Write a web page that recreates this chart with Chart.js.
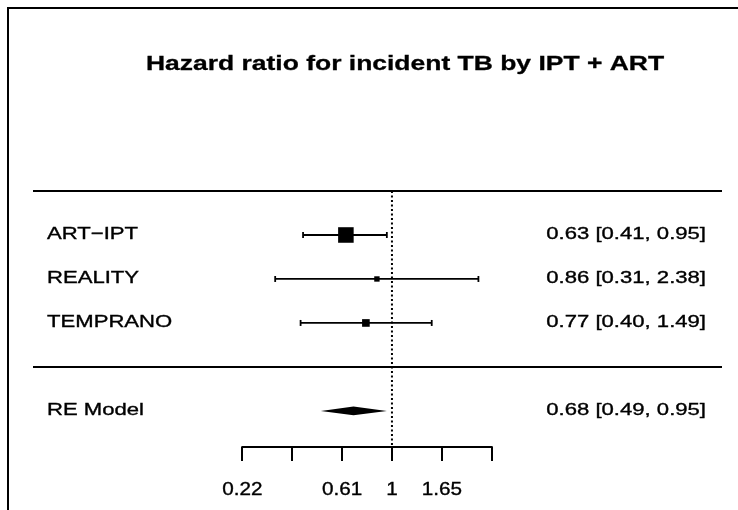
<!DOCTYPE html>
<html>
<head>
<meta charset="utf-8">
<script src="https://cdn.jsdelivr.net/npm/chart.js@4.4.1/dist/chart.umd.min.js"></script>
<style>
    html, body { margin: 0; padding: 0; background: #fff; }
    canvas { display: block; }
</style>
</head>
<body>
<canvas id="forest" width="738" height="510"></canvas>
<script>
// Study estimates (hazard ratios with 95% CI)
const studies = ["ART\u2212IPT", "REALITY", "TEMPRANO"];
const hr = [0.63, 0.86, 0.77];
const ciLower = [0.41, 0.31, 0.40];
const ciUpper = [0.95, 2.38, 1.49];

// Random-effects summary
const modelLabel = "RE Model";
const modelHr = 0.68;
const modelLower = 0.49;
const modelUpper = 0.95;

// Axis ticks on the log scale and their printed labels
const tickLogs = [-1.5, -1, -0.5, 0, 0.5, 1];
const tickLabels = ["0.22", "", "0.61", "1", "1.65", ""];

const title = "Hazard ratio for incident TB by IPT + ART";

// layout rows: studies top-down, summary under the separator
const studyRows = [3, 2, 1];
const modelRow = -1;
const X_MIN = -3.6, X_MAX = 3.31;
const Y_MIN = -1.82, Y_MAX = 4;

const FONT = "'Liberation Sans', Arial, sans-serif";
const fmt = (e, l, u) => e.toFixed(2) + " [" + l.toFixed(2) + ", " + u.toFixed(2) + "]";

Chart.defaults.font.family = FONT;
Chart.defaults.color = "#000";

// text drawn a little wide, like the R device output
function wideText(ctx, str, x, y, align, sx, weight) {
    ctx.save();
    ctx.translate(x, y);
    ctx.scale(sx, 1);
    ctx.textAlign = align;
    ctx.fillText(str, 0, 0);
    if (weight) {
        ctx.lineWidth = weight;
        ctx.strokeText(str, 0, 0);
    }
    ctx.restore();
}

const ciSets = studies.map((s, i) => ({
    label: s,
    data: [{ x: Math.log(ciLower[i]), y: studyRows[i] }, { x: Math.log(ciUpper[i]), y: studyRows[i] }],
    showLine: true,
    borderColor: "#000",
    borderWidth: 1.8,
    pointStyle: "line",
    pointRotation: 90,
    pointRadius: 3,
    pointBorderWidth: 1.8,
    pointBorderColor: "#000",
    clip: false
}));

const hline = y => ({
    data: [{ x: X_MIN, y: y }, { x: X_MAX, y: y }],
    showLine: true,
    borderColor: "#000",
    borderWidth: 2,
    pointRadius: 0,
    clip: false
});

// frame, title, text columns, summary diamond and axis line
const decor = {
    id: "decor",
    beforeDatasetsDraw(chart) {
        const { ctx, scales: { x, y } } = chart;
        const h = 0.1;
        ctx.save();
        ctx.fillStyle = "#000";
        ctx.beginPath();
        ctx.moveTo(x.getPixelForValue(Math.log(modelLower)), y.getPixelForValue(modelRow));
        ctx.lineTo(x.getPixelForValue(Math.log(modelHr)), y.getPixelForValue(modelRow + h));
        ctx.lineTo(x.getPixelForValue(Math.log(modelUpper)), y.getPixelForValue(modelRow));
        ctx.lineTo(x.getPixelForValue(Math.log(modelHr)), y.getPixelForValue(modelRow - h));
        ctx.closePath();
        ctx.fill();
        ctx.restore();
    },
    afterDraw(chart) {
        const { ctx, chartArea, scales: { x, y } } = chart;
        ctx.save();
        ctx.strokeStyle = "#000";
        ctx.lineWidth = 2;
        ctx.beginPath();
        ctx.moveTo(8, 510);
        ctx.lineTo(8, 8);
        ctx.lineTo(738, 8);
        ctx.stroke();

        // axis line between first and last tick
        ctx.beginPath();
        ctx.moveTo(x.getPixelForValue(tickLogs[0]) - 1, chartArea.bottom);
        ctx.lineTo(x.getPixelForValue(tickLogs[tickLogs.length - 1]) + 1, chartArea.bottom);
        ctx.stroke();

        ctx.fillStyle = "#000";
        ctx.textBaseline = "alphabetic";
        ctx.font = "bold 21px " + FONT;
        wideText(ctx, title, 405, 70, "center", 1.26, 0.3);

        ctx.font = "17px " + FONT;
        const leftX = chartArea.left + 14, rightX = chartArea.right - 16;
        studies.forEach((s, i) => {
            const py = y.getPixelForValue(studyRows[i]) + 4.5;
            wideText(ctx, s, leftX, py, "left", 1.3, 0.35);
            wideText(ctx, fmt(hr[i], ciLower[i], ciUpper[i]), rightX, py, "right", 1.3, 0.35);
        });
        const my = y.getPixelForValue(modelRow) + 4.5;
        wideText(ctx, modelLabel, leftX, my, "left", 1.3, 0.35);
        wideText(ctx, fmt(modelHr, modelLower, modelUpper), rightX, my, "right", 1.3, 0.35);

        // tick labels under the tick marks of the x scale
        ctx.font = "18px " + FONT;
        x.ticks.forEach((t, i) => {
            if (tickLabels[i]) {
                wideText(ctx, tickLabels[i], x.getPixelForValue(t.value), chartArea.bottom + 48, "center", 1.15, 0.35);
            }
        });
        ctx.restore();
    }
};

new Chart(document.getElementById("forest"), {
    type: "scatter",
    data: {
        datasets: [
            hline(Y_MAX),
            hline(0),
            {
                // reference line at HR = 1
                data: [{ x: 0, y: Y_MAX }, { x: 0, y: Y_MIN }],
                showLine: true,
                borderColor: "#000",
                borderWidth: 2,
                borderDash: [2, 2.5],
                pointRadius: 0,
                clip: false
            },
            ...ciSets,
            {
                // boxes sized by study weight
                data: hr.map((v, i) => ({ x: Math.log(v), y: studyRows[i] })),
                pointStyle: "rect",
                pointRadius: [11, 3.8, 5.4],
                backgroundColor: "#000",
                borderWidth: 0,
                clip: false
            }
        ]
    },
    options: {
        responsive: false,
        animation: false,
        events: [],
        layout: { padding: { top: 191, left: 33, right: 16, bottom: 49 } },
        plugins: {
            legend: { display: false },
            tooltip: { enabled: false }
        },
        scales: {
            x: {
                type: "linear",
                min: X_MIN,
                max: X_MAX,
                afterBuildTicks: axis => {
                    axis.ticks = tickLogs.map(v => ({ value: v }));
                },
                ticks: { display: false },
                grid: {
                    drawOnChartArea: false,
                    drawTicks: true,
                    tickLength: 14,
                    lineWidth: 2,
                    color: "#000"
                },
                border: { display: false }
            },
            y: {
                type: "linear",
                display: false,
                min: Y_MIN,
                max: Y_MAX
            }
        }
    },
    plugins: [decor]
});
</script>
</body>
</html>
